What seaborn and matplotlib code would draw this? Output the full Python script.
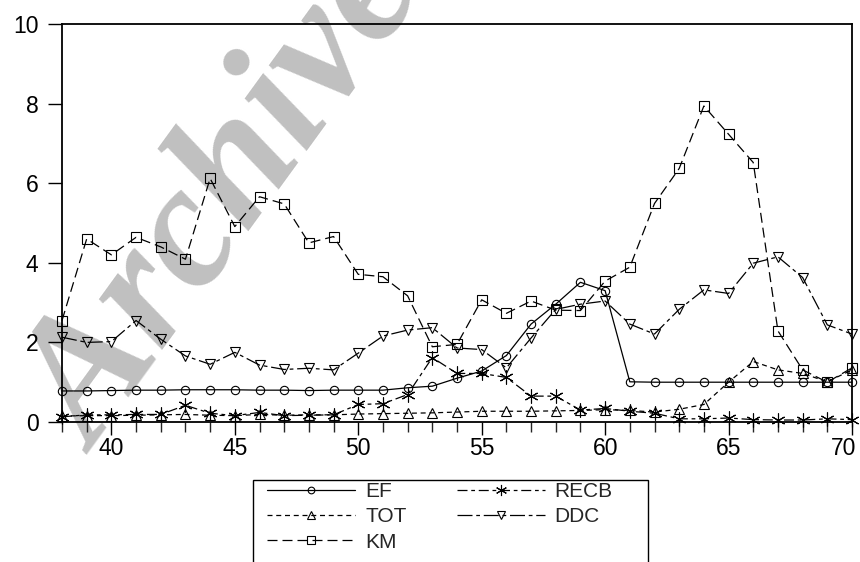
import matplotlib
matplotlib.use("Agg")
import matplotlib.pyplot as plt
import matplotlib.transforms as mtransforms
import seaborn as sns
import pandas as pd
from matplotlib.ticker import MultipleLocator
from matplotlib.patches import Rectangle

years = list(range(38, 71))
ef = [0.78, 0.78, 0.79, 0.80, 0.80, 0.81, 0.81, 0.81, 0.80, 0.80, 0.79, 0.80, 0.80,
      0.80, 0.86, 0.90, 1.10, 1.28, 1.67, 2.46, 2.96, 3.51, 3.30, 1.01, 1.00, 1.00,
      1.00, 1.00, 1.00, 1.00, 1.00, 1.00, 1.00]
recb = [0.13, 0.18, 0.18, 0.19, 0.19, 0.42, 0.22, 0.16, 0.24, 0.16, 0.17, 0.18, 0.44,
        0.46, 0.69, 1.62, 1.22, 1.22, 1.12, 0.65, 0.65, 0.30, 0.34, 0.27, 0.22, 0.08,
        0.08, 0.10, 0.06, 0.05, 0.05, 0.08, 0.06]
tot = [0.15, 0.16, 0.16, 0.17, 0.18, 0.19, 0.17, 0.16, 0.19, 0.17, 0.18, 0.18, 0.20,
       0.21, 0.22, 0.23, 0.25, 0.27, 0.27, 0.27, 0.28, 0.29, 0.31, 0.29, 0.25, 0.32,
       0.44, 1.00, 1.52, 1.31, 1.22, 1.01, 1.31]
ddc = [2.13, 2.00, 2.02, 2.55, 2.08, 1.66, 1.45, 1.75, 1.43, 1.32, 1.35, 1.31, 1.73,
       2.16, 2.31, 2.37, 1.86, 1.82, 1.36, 2.11, 2.83, 2.96, 3.04, 2.46, 2.21, 2.83,
       3.32, 3.23, 3.99, 4.15, 3.63, 2.44, 2.21]
km = [2.55, 4.60, 4.20, 4.64, 4.40, 4.09, 6.12, 4.91, 5.66, 5.48, 4.50, 4.66, 3.71,
      3.65, 3.17, 1.89, 1.95, 3.07, 2.73, 3.04, 2.81, 2.80, 3.54, 3.89, 5.49, 6.37,
      7.94, 7.23, 6.52, 2.29, 1.31, 1.00, 1.36]
series_names = ["EF", "TOT", "KM", "RECB", "DDC"]
x_major_ticks = [40, 45, 50, 55, 60, 65, 70]
y_ticks = [0, 2, 4, 6, 8, 10]
watermark = "Archive"

sns.set_theme(style="white")
plt.rcParams['font.family'] = ['Liberation Sans', 'DejaVu Sans']

fig = plt.figure(figsize=(8.6, 5.62), dpi=100)
ax = fig.add_axes([62/860, 1-422/562, (852-62)/860, (422-24)/562])

data = {"EF": ef, "TOT": tot, "KM": km, "RECB": recb, "DDC": ddc}
styles = {
    "EF": dict(linestyle="-", marker="o", markersize=6),
    "TOT": dict(linestyle=(0, (4, 3)), marker="^", markersize=7),
    "KM": dict(linestyle=(0, (8, 4)), marker="s", markersize=6.5),
    "RECB": dict(linestyle=(0, (8, 3, 3, 3)), marker=(6, 2, 0), markersize=10),
    "DDC": dict(linestyle=(0, (12, 3, 3, 3)), marker="v", markersize=7),
}

for name in series_names:
    df = pd.DataFrame({"x": years, "y": data[name]})
    sns.lineplot(data=df, x="x", y="y", ax=ax, color="black", linewidth=0.9,
                 markerfacecolor="none", markeredgecolor="black",
                 markeredgewidth=0.8, label=name, legend=False, clip_on=False,
                 zorder=3, **styles[name])

ax.text(228/860, 1-200/562, watermark, transform=fig.transFigure, fontsize=127,
        family="Liberation Serif", weight="bold", style="italic", color="#c0c0c0",
        rotation=54, ha="center", va="center", rotation_mode="anchor",
        zorder=0.5, clip_on=False)

ax.set_xlim(38, 70)
ax.set_ylim(0, 10)
ax.set_xticks(x_major_ticks)
ax.xaxis.set_minor_locator(MultipleLocator(1))
ax.set_yticks(y_ticks)
ax.set_xlabel("")
ax.set_ylabel("")
ax.tick_params(axis="y", direction="out", length=10, width=1, labelsize=16.5,
               pad=7, colors="black", left=True)
ax.tick_params(axis="x", which="major", direction="out", length=9, width=1,
               labelsize=16.5, pad=2, colors="black", bottom=True)
ax.tick_params(axis="x", which="minor", direction="out", length=7, width=1,
               bottom=True)
for s in ax.spines.values():
    s.set_visible(True)
    s.set_color("black")
    s.set_linewidth(1.3)
ax.patch.set_facecolor("white")

# keep the last x tick label inside the canvas, as in the reference
last_label = ax.get_xticklabels()[-1]
last_label.set_transform(last_label.get_transform() +
                         mtransforms.ScaledTranslation(-8/100, 0, fig.dpi_scale_trans))

# legend frame (extends past the bottom edge, as in the reference)
fig.patches.append(Rectangle((253/860, -0.05), (648-253)/860, 1-480/562+0.05,
                             transform=fig.transFigure, fill=False,
                             edgecolor="black", linewidth=1.0))

handles, labels = ax.get_legend_handles_labels()
order = [labels.index(n) for n in series_names]
leg = fig.legend([handles[i] for i in order], [labels[i] for i in order],
                 loc="upper left", bbox_to_anchor=(267/860, 1-482/562), ncol=2,
                 frameon=False, fontsize=15,
                 handlelength=4.23, handletextpad=0.48, columnspacing=2.4,
                 borderpad=0, labelspacing=0.3, borderaxespad=0,
                 markerscale=0.8)

fig.savefig("out.png", dpi=100, facecolor="white")
